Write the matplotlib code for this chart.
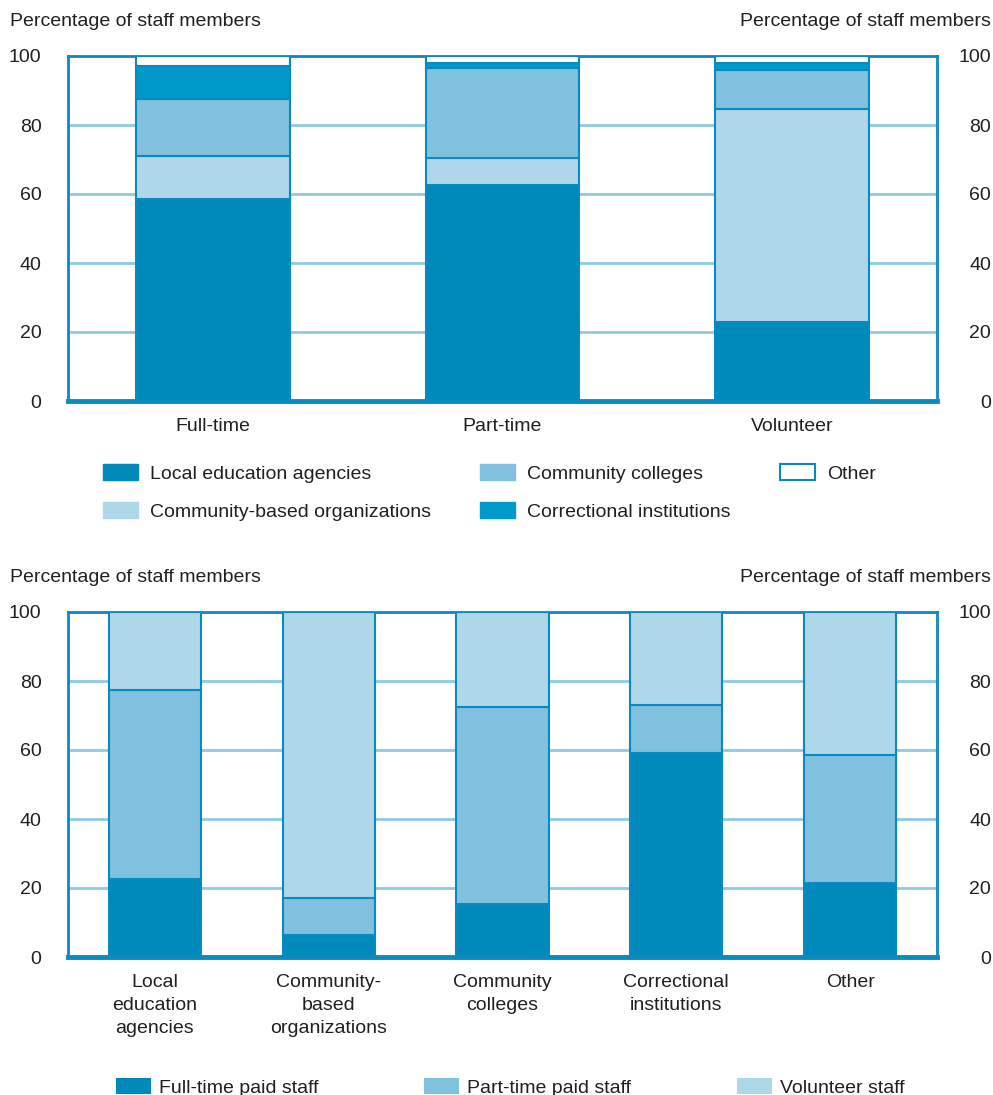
#!/usr/bin/env python3
import numpy as np
from matplotlib import pyplot as plt
import matplotlib.transforms as mtrans
from matplotlib.patches import Patch

plt.rcParams['font.family'] = ['Liberation Sans', 'DejaVu Sans']
plt.rcParams['text.color'] = '#231F20'
plt.rcParams['xtick.color'] = '#231F20'
plt.rcParams['ytick.color'] = '#231F20'

# top chart: staff type -> program type shares
staff_types = ['Full-time', 'Part-time', 'Volunteer']
local_agencies = [58.5, 62.5, 23.0]
community_orgs = [12.5, 8.0, 61.5]
community_colleges = [16.5, 26.0, 11.5]
correctional = [9.5, 1.5, 2.0]
other = [3.0, 2.0, 2.0]

# bottom chart: program type -> staff type shares
program_types = ['Local\neducation\nagencies', 'Community-\nbased\norganizations',
                 'Community\ncolleges', 'Correctional\ninstitutions', 'Other']
full_time_paid = [22.5, 6.5, 15.5, 59.0, 21.5]
part_time_paid = [55.0, 10.5, 57.0, 14.0, 37.0]
volunteer_staff = [22.5, 83.0, 27.5, 27.0, 41.5]

DARK = '#0089BB'
MID = '#80C1DF'
LIGHT = '#AFD7EA'
CORR = '#009ACA'
EDGE = '#0A8AC0'
GRID = '#8ECAE6'
FS = 14


def stacked(ax, cats, series):
    x = np.arange(len(cats))
    bottom = np.zeros(len(cats))
    for vals, col in series:
        vals = np.array(vals)
        ax.bar(x, vals, bottom=bottom, width=0.53, color=col, edgecolor=EDGE,
               linewidth=1.5, zorder=3)
        bottom += vals


def style(ax, cats, label_y):
    ax.set_xlim(-0.5, len(cats) - 0.5)
    ax.set_ylim(0, 100)
    ax.set_yticks([0, 20, 40, 60, 80, 100])
    ax.set_xticks(np.arange(len(cats)))
    ax.set_xticklabels(cats, fontsize=FS, linespacing=1.45)
    ax.tick_params(axis='x', length=0, pad=12.5)
    ax.tick_params(axis='y', length=0, labelsize=FS, pad=19,
                   labelright=True, right=False)
    # right labels right-aligned so they end at the figure edge
    off = mtrans.ScaledTranslation(54 / 100 - 19 / 72, 0, fig.dpi_scale_trans)
    for t in ax.yaxis.get_major_ticks():
        t.label2.set_horizontalalignment('right')
        t.label2.set_transform(t.label2.get_transform() + off)
    for y in [20, 40, 60, 80]:
        ax.axhline(y, color=GRID, linewidth=2, zorder=1)
    for s in ax.spines.values():
        s.set_color(EDGE)
        s.set_linewidth(2)
    ax.spines['bottom'].set_linewidth(3.5)
    ax.spines['bottom'].set_zorder(5)
    fig.text(10 / 993, label_y, 'Percentage of staff members', fontsize=FS,
             va='center', ha='left')
    fig.text(991 / 993, label_y, 'Percentage of staff members', fontsize=FS,
             va='center', ha='right')


fig = plt.figure(figsize=(9.93, 10.95), dpi=100)

ax1 = fig.add_axes([68 / 993, 694 / 1095, 869 / 993, 345 / 1095])
stacked(ax1, staff_types, [(local_agencies, DARK), (community_orgs, LIGHT),
                           (community_colleges, MID), (correctional, CORR),
                           (other, 'white')])
style(ax1, staff_types, 1 - 21 / 1095)

ax2 = fig.add_axes([68 / 993, 138 / 1095, 869 / 993, 345 / 1095])
stacked(ax2, program_types, [(full_time_paid, DARK), (part_time_paid, MID),
                             (volunteer_staff, LIGHT)])
style(ax2, program_types, 1 - 578 / 1095)

top_handles = [Patch(facecolor=DARK, edgecolor=DARK), Patch(facecolor=LIGHT, edgecolor=LIGHT),
               Patch(facecolor=MID, edgecolor=MID), Patch(facecolor=CORR, edgecolor=CORR),
               Patch(facecolor='white', edgecolor=EDGE, linewidth=1.5)]
top_labels = ['Local education agencies', 'Community-based organizations',
              'Community colleges', 'Correctional institutions', 'Other']
fig.legend(top_handles, top_labels, ncol=3, loc='upper left',
           bbox_to_anchor=(103 / 993, 1 - 464 / 1095), frameon=False,
           fontsize=FS, handlelength=1.8, handleheight=0.9, handletextpad=0.6,
           columnspacing=2.55, borderpad=0, borderaxespad=0, labelspacing=1.0)

bot_handles = [Patch(facecolor=DARK), Patch(facecolor=MID), Patch(facecolor=LIGHT)]
bot_labels = ['Full-time paid staff', 'Part-time paid staff', 'Volunteer staff']
fig.legend(bot_handles, bot_labels, ncol=3, loc='upper left',
           bbox_to_anchor=(116 / 993, 1 - 1078 / 1095), frameon=False,
           fontsize=FS, handlelength=1.8, handleheight=0.9, handletextpad=0.4,
           columnspacing=5.45, borderpad=0, borderaxespad=0)

fig.savefig('out.png', dpi=100)
